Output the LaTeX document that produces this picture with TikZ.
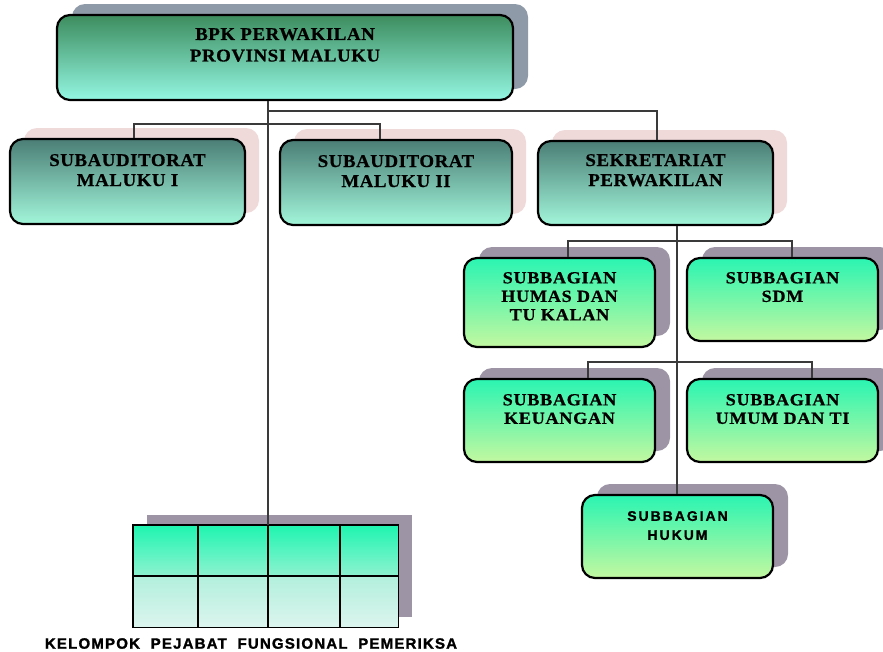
\documentclass[tikz,border=0pt]{standalone}
\usepackage{fontspec}
\setmainfont{Liberation Serif}
\newfontfamily\boxfont{Liberation Serif}[LetterSpace=3,FakeStretch=1.05,FakeBold=0.6]
\newfontfamily\subfont{Liberation Serif}[LetterSpace=4,FakeStretch=1.07,FakeBold=0.6]
\newfontfamily\hukfont{Liberation Sans}[LetterSpace=14,FakeBold=1]
\newfontfamily\lblfont{Liberation Sans}[LetterSpace=8,FakeBold=1.5]
\usetikzlibrary{shadows}
\definecolor{topA}{HTML}{3D8C5E}
\definecolor{topB}{HTML}{2CF2B2}
\definecolor{topC}{HTML}{93F7E2}
\definecolor{saA}{HTML}{4B7E76}
\definecolor{saB}{HTML}{72C0A8}
\definecolor{saC}{HTML}{A2F6DA}
\definecolor{sbA}{HTML}{2AF5B2}
\definecolor{sbB}{HTML}{7EF2AC}
\definecolor{sbC}{HTML}{C3F7A0}
\definecolor{tAa}{HTML}{1EF5B0}
\definecolor{tAb}{HTML}{8EF2D0}
\definecolor{tBa}{HTML}{B2EFDC}
\definecolor{tBb}{HTML}{DCF5EE}
\definecolor{pinkSh}{HTML}{EFD9D9}
\definecolor{graySh}{HTML}{9D95A5}
\definecolor{topSh}{HTML}{8E9AA8}
\definecolor{lineC}{HTML}{3A3A3A}
\begin{document}
\begin{tikzpicture}[x=1pt,y=-1pt,
  basebox/.style={draw=black, line width=2.2pt, rounded corners=13pt, inner sep=0pt},
  topbox/.style={basebox, top color=topA, middle color=topB, bottom color=topC,
     general shadow={fill=topSh, shadow xshift=15pt, shadow yshift=11pt}},
  sabox/.style={basebox, top color=saA, middle color=saB, bottom color=saC,
     general shadow={fill=pinkSh, shadow xshift=14pt, shadow yshift=11pt}},
  sbbox/.style={basebox, top color=sbA, middle color=sbB, bottom color=sbC,
     general shadow={fill=graySh, shadow xshift=15pt, shadow yshift=11pt}},
  bigtxt/.style={anchor=north, inner sep=0pt, align=center, font=\boxfont\bfseries\fontsize{18}{21.5}\selectfont},
  subtxt/.style={anchor=north, inner sep=0pt, align=center, font=\subfont\bfseries\fontsize{17}{18.5}\selectfont},
  huktxt/.style={anchor=north, inner sep=0pt, align=center, font=\hukfont\bfseries\fontsize{14}{19}\selectfont},
  conn/.style={draw=lineC, line width=1.3pt}
]
\useasboundingbox (0,0) rectangle (883,651);

% boxes
\node[topbox, minimum width=456pt, minimum height=85pt] (top) at (285,57.5) {};
\node[sabox, minimum width=235pt, minimum height=85pt] (sa1) at (127.5,181.5) {};
\node[sabox, minimum width=232pt, minimum height=85pt] (sa2) at (396,182.5) {};
\node[sabox, minimum width=235pt, minimum height=84pt] (sek) at (655.5,183) {};
\node[sbbox, minimum width=191pt, minimum height=89pt] (humas) at (559.5,302.5) {};
\node[sbbox, minimum width=191pt, minimum height=83pt] (sdm) at (782.5,299.5) {};
\node[sbbox, minimum width=191pt, minimum height=83pt] (keu) at (559.5,420.5) {};
\node[sbbox, minimum width=191pt, minimum height=83pt] (umum) at (782.5,420.5) {};
\node[sbbox, minimum width=191pt, minimum height=83pt] (hukum) at (677.5,536.5) {};

% texts
\node[bigtxt] (ttop) at ([yshift=-14pt]top.north) {BPK PERWAKILAN\\PROVINSI MALUKU};
\node[bigtxt, font=\boxfont\bfseries\fontsize{18}{20}\selectfont] (tsa1) at ([yshift=-16pt]sa1.north) {SUBAUDITORAT\\MALUKU I};
\node[bigtxt, font=\boxfont\bfseries\fontsize{18}{20}\selectfont] (tsa2) at ([yshift=-16pt]sa2.north) {SUBAUDITORAT\\MALUKU II};
\node[bigtxt, font=\boxfont\bfseries\fontsize{18}{20}\selectfont] (tsek) at ([yshift=-14pt]sek.north) {SEKRETARIAT\\PERWAKILAN};
\node[subtxt] (thumas) at ([yshift=-15pt]humas.north) {SUBBAGIAN\\HUMAS DAN\\TU KALAN};
\node[subtxt] (tsdm) at ([yshift=-15pt]sdm.north) {SUBBAGIAN\\SDM};
\node[subtxt] (tkeu) at ([yshift=-16pt]keu.north) {SUBBAGIAN\\KEUANGAN};
\node[subtxt] (tumum) at ([yshift=-16pt]umum.north) {SUBBAGIAN\\UMUM DAN TI};
\node[huktxt] (thuk) at ([yshift=-17pt]hukum.north) {SUBBAGIAN\\HUKUM};

% table (kelompok fungsional)
\node[draw=none, inner sep=0pt, minimum width=265pt, minimum height=102pt,
  general shadow={fill=graySh, shadow xshift=14pt, shadow yshift=10pt}] (tbl) at (265.5,576) {};
\shade[top color=tAa, bottom color=tAb] (tbl.north west) rectangle (398,576);
\shade[top color=tBa, bottom color=tBb] (133,576) rectangle (tbl.south east);
\draw[black, line width=1.4pt] (tbl.north west) rectangle (tbl.south east);
\draw[black, line width=1.4pt] (133,576) -- (398,576)
  (198,525) -- (198,627) (268,525) -- (268,627) (340,525) -- (340,627);
\node[anchor=north, inner sep=0pt, font=\lblfont\bfseries\fontsize{15}{16}\selectfont] (lbl) at (251,638)
  {KELOMPOK\ \ PEJABAT\ \ FUNGSIONAL\ \ PEMERIKSA};

% connectors
\coordinate (tr) at (268,111);
\coordinate (jsek) at (657,111);
\coordinate (jsa1) at (134,124);
\coordinate (jsa2) at (380,124);
\coordinate (sekx) at (677,241);
\coordinate (jhu) at (568,241);
\coordinate (jsd) at (792,241);
\coordinate (jke) at (588,362);
\coordinate (jum) at (812,362);

\draw[conn] (top.south -| tr) -- (tbl.north -| tr);
\draw[conn] (tr) -- (jsek) -- (sek.north -| jsek);
\draw[conn] (sa1.north -| jsa1) -- (jsa1) -- (jsa2) -- (sa2.north -| jsa2);
\draw[conn] (sek.south -| sekx) -- (hukum.north -| sekx);
\draw[conn] (humas.north -| jhu) -- (jhu) -- (jsd) -- (sdm.north -| jsd);
\draw[conn] (keu.north -| jke) -- (jke) -- (jum) -- (umum.north -| jum);
\end{tikzpicture}
\end{document}
